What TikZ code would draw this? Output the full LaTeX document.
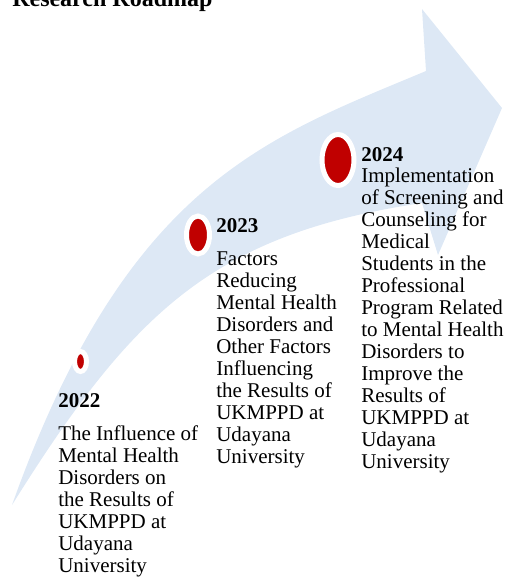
\documentclass[tikz,border=0pt]{standalone}
\usepackage{fontspec}
\setmainfont{Liberation Serif}
\usepackage{tikz}
\usetikzlibrary{shapes}
\usetikzlibrary{positioning}

\definecolor{roadblue}{HTML}{DDE8F5}
\definecolor{roadred}{HTML}{C00000}

\begin{document}
\begin{tikzpicture}[x=0.75pt,y=-0.75pt,
  milestone/.style={ellipse, fill=roadred, draw=white, line width=3.75pt, inner sep=0pt},
  year/.style={anchor=base west, inner sep=0pt, font=\fontsize{15.75pt}{16.5pt}\selectfont\bfseries},
  desc/.style={anchor=base west, inner sep=0pt, align=left, font=\fontsize{15.75pt}{16.5pt}\selectfont}]
  \useasboundingbox (0,0) rectangle (508,579);

  % heading, only its lower half is on the page
  \node[anchor=base west, inner sep=0pt, font=\fontsize{18pt}{20pt}\selectfont\bfseries] (title) at (12,6) {Research Roadmap};

  % the big rising arrow
  \coordinate (tail) at (12,505);
  \coordinate (notch) at (426,71);
  \coordinate (barb) at (422,9);
  \coordinate (tip) at (502,108);
  \coordinate (spike) at (438,255);
  \coordinate (join) at (422,203);
  \fill[roadblue] (tail) .. controls (127,183) and (266,138) .. (notch)
    -- (barb) -- (tip) -- (spike) -- (join)
    .. controls (212,234.5) and (132,313) .. (tail) -- cycle;

  % milestones
  \node[milestone, minimum width=9pt, minimum height=15pt] (m22) at (80.5,361.5) {};
  \node[milestone, minimum width=17.25pt, minimum height=28.5pt] (m23) at (198,235) {};
  \node[milestone, minimum width=24pt, minimum height=38.25pt] (m24) at (338,160) {};

  % texts, each block is set by the baseline of its last line
  \node[year] (y22) at (58,407) {2022};
  \node[desc] (d22) at (58,572) {The Influence of\\Mental Health\\Disorders on\\the Results of\\UKMPPD at\\Udayana\\University};

  \node[year] (y23) at (216,232) {2023};
  \node[desc] (d23) at (216,463) {Factors\\Reducing\\Mental Health\\Disorders and\\Other Factors\\Influencing\\the Results of\\UKMPPD at\\Udayana\\University};

  \node[year] (y24) at (361,161) {2024};
  \node[desc] (d24) at (361,468) {Implementation\\of Screening and\\Counseling for\\Medical\\Students in the\\Professional\\Program Related\\to Mental Health\\Disorders to\\Improve the\\Results of\\UKMPPD at\\Udayana\\University};
\end{tikzpicture}
\end{document}
